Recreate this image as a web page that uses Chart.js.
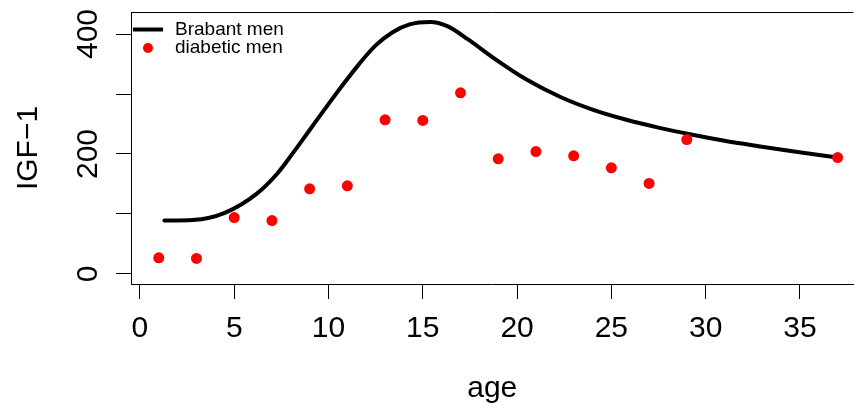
<!DOCTYPE html>
<html>
<head>
<meta charset="utf-8">
<script src="https://cdn.jsdelivr.net/npm/chart.js@4.4.1/dist/chart.umd.min.js"></script>
<style>
  html, body { margin: 0; padding: 0; background: #ffffff; }
  #c { display: block; }
</style>
</head>
<body>
<canvas id="c" width="859" height="408"></canvas>
<script>
// ---- data ----
const diabAge = [1, 3, 5, 7, 9, 11, 13, 15, 17, 19, 21, 23, 25, 27, 29, 37];
const diabIGF = [27, 26, 94, 89, 142, 147, 257, 256, 302, 192, 204, 197, 177, 151, 224, 194];

const brabAge = [1.3, 2.8, 4.5, 6.2, 7.3, 8.1, 9.0, 9.9, 10.8, 11.6, 12.5, 13.4, 14.3, 15.4, 16.3, 17.4, 18.8, 20.5, 22.3, 24.0, 25.8, 27.5, 29.3, 31.0, 32.8, 34.6, 37.0];
const brabIGF = [89, 90, 102, 134, 168, 201, 240, 279, 317, 349, 381, 403, 416, 420, 413, 391, 359, 324, 295, 274, 257, 244, 232, 222, 213, 204.5, 194];

const xLabelTicks = [0, 5, 10, 15, 20, 25, 30, 35];
const yLabelTicks = [0, 200, 400];
const seriesNames = ['Brabant men', 'diabetic men'];
const xTitle = 'age';
const yTitle = 'IGF\u22121';

const FONT = 'Liberation Sans, Arial, Helvetica, sans-serif';

const diabPts = diabAge.map((a, i) => ({ x: a, y: diabIGF[i] }));
const brabPts = brabAge.map((a, i) => ({ x: a, y: brabIGF[i] }));

const framePlugin = {
  id: 'frameAndLabels',
  afterDraw(chart) {
    const ctx = chart.ctx;
    const area = chart.chartArea;
    const xs = chart.scales.x;
    const ys = chart.scales.y;
    ctx.save();
    // top frame line
    ctx.strokeStyle = '#000';
    ctx.lineWidth = 1;
    ctx.beginPath();
    ctx.moveTo(area.left, Math.round(area.top) + 0.5);
    ctx.lineTo(area.right, Math.round(area.top) + 0.5);
    ctx.stroke();
    ctx.fillStyle = '#000';
    ctx.font = '30px ' + FONT;
    // x tick labels
    ctx.textAlign = 'center';
    ctx.textBaseline = 'alphabetic';
    xLabelTicks.forEach(v => {
      ctx.fillText(String(v), xs.getPixelForValue(v), 337);
    });
    // rotated y tick labels
    yLabelTicks.forEach(v => {
      const py = ys.getPixelForValue(v);
      ctx.save();
      ctx.translate(97, py);
      ctx.rotate(-Math.PI / 2);
      ctx.fillText(String(v), 0, 0);
      ctx.restore();
    });
    // legend
    ctx.font = '19px ' + FONT;
    ctx.textAlign = 'left';
    ctx.textBaseline = 'middle';
    ctx.strokeStyle = '#000';
    ctx.lineWidth = 4;
    ctx.lineCap = 'butt';
    ctx.beginPath();
    ctx.moveTo(133, 29.5);
    ctx.lineTo(163, 29.5);
    ctx.stroke();
    ctx.fillText(seriesNames[0], 175, 30);
    ctx.fillStyle = '#ff0000';
    ctx.beginPath();
    ctx.arc(148, 48, 5, 0, Math.PI * 2);
    ctx.fill();
    ctx.fillStyle = '#000';
    ctx.fillText(seriesNames[1], 175, 48);
    ctx.restore();
  }
};

new Chart(document.getElementById('c'), {
  type: 'scatter',
  data: {
    datasets: [
      {
        label: seriesNames[1],
        data: diabPts,
        showLine: false,
        pointRadius: 5.5,
        pointBackgroundColor: '#ff0000',
        pointBorderWidth: 0,
        pointBorderColor: '#ff0000',
        order: 0
      },
      {
        label: seriesNames[0],
        data: brabPts,
        showLine: true,
        borderColor: '#000',
        borderWidth: 4,
        borderCapStyle: 'round',
        borderJoinStyle: 'round',
        cubicInterpolationMode: 'monotone',
        pointRadius: 0,
        fill: false,
        order: 1
      }
    ]
  },
  options: {
    responsive: false,
    animation: false,
    devicePixelRatio: 1,
    layout: { padding: { top: 12, right: 0, left: 0, bottom: 0 } },
    plugins: {
      legend: { display: false },
      tooltip: { enabled: false }
    },
    scales: {
      x: {
        type: 'linear',
        position: 'bottom',
        min: -0.4737,
        max: 37.84,
        afterFit(s) { s.height = 124; s.paddingLeft = 0; s.paddingRight = 0; },
        ticks: {
          stepSize: 5,
          includeBounds: false,
          autoSkip: false,
          maxRotation: 0,
          minRotation: 0,
          color: 'rgba(0,0,0,0)',
          padding: 0,
          font: { family: FONT, size: 1 }
        },
        grid: {
          drawOnChartArea: false,
          drawTicks: true,
          tickLength: 15,
          tickColor: '#000',
          tickWidth: 1,
          color: '#000'
        },
        border: { display: true, color: '#000', width: 1 },
        title: {
          display: true,
          text: xTitle,
          color: '#000',
          font: { family: FONT, size: 30 },
          padding: { top: 0, bottom: 1 }
        }
      },
      y: {
        type: 'linear',
        position: 'left',
        min: -16.67,
        max: 436.67,
        afterFit(s) { s.width = 131; s.paddingTop = 0; s.paddingBottom = 0; },
        ticks: {
          stepSize: 100,
          includeBounds: false,
          color: 'rgba(0,0,0,0)',
          padding: 0,
          font: { family: FONT, size: 1 }
        },
        grid: {
          drawOnChartArea: false,
          drawTicks: true,
          tickLength: 15,
          tickColor: '#000',
          tickWidth: 1,
          color: '#000'
        },
        border: { display: true, color: '#000', width: 1 },
        title: {
          display: true,
          text: yTitle,
          color: '#000',
          font: { family: FONT, size: 30 },
          padding: { top: 11, bottom: 0 }
        }
      }
    }
  },
  plugins: [framePlugin]
});
</script>
</body>
</html>
